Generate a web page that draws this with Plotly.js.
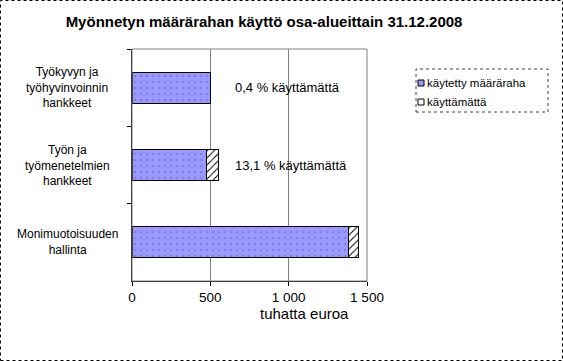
<!DOCTYPE html>
<html><head><meta charset="utf-8">
<script src="https://cdn.plot.ly/plotly-3.0.1.min.js"></script>
<style>html,body{margin:0;padding:0;background:#fff}#c{width:563px;height:361px}</style>
</head><body><div id="c"></div>
<script>
const categories = ["Työkyvyn ja<br>työhyvinvoinnin<br>hankkeet", "Työn ja<br>työmenetelmien<br>hankkeet", "Monimuotoisuuden<br>hallinta"];
const used = [498, 478, 1385];
const unused = [2, 72, 61];
const notes = ["0,4 % käyttämättä", "13,1 % käyttämättä", "4,2 % käyttämättä"];
const noteX = [644, 644, 1559];
const seriesNames = ["käytetty määräraha", "käyttämättä"];
const tickVals = [0, 500, 1000, 1500];
const tickText = ["0", "500", "1 000", "1 500"];

const font = "Liberation Sans, Arial, sans-serif";
const L = 132, R = 367, T = 49, B = 281;
const px = v => (v - L) / (R - L);
const py = v => (B - v) / (B - T);

const traces = [
  {type:'bar', orientation:'h', y:categories, x:used, name:seriesNames[0], width:0.4, showlegend:false,
   marker:{color:'#9999ff', line:{color:'#000', width:1}, pattern:{shape:'.', fgcolor:'#8080e0', bgcolor:'#9999ff', size:6, solidity:0.15}}},
  {type:'bar', orientation:'h', y:categories, x:unused, name:seriesNames[1], width:0.4, showlegend:false,
   marker:{color:'#ffffff', line:{color:'#000', width:1}, pattern:{shape:'/', fgcolor:'#000', bgcolor:'#fff', size:5, solidity:0.2}}}
];
const annotations = notes.map((t,i)=>({x:noteX[i], y:categories[i], xref:'x', yref:'y', text:t, showarrow:false, xanchor:'left', font:{family:font, size:13, color:'#000'}}));
categories.forEach((c,i)=>annotations.push({x:px(67), y:c, xref:'paper', yref:'y', text:c, showarrow:false, xanchor:'center', align:'center', font:{family:font, size:12, color:'#000'}}));
annotations.push({x:px(304), y:py(313), xref:'paper', yref:'paper', text:'tuhatta euroa', showarrow:false, xanchor:'center', yanchor:'middle', font:{family:font, size:15, color:'#000'}});
// legend (custom)
const legY = [83, 102];
seriesNames.forEach((n,i)=>annotations.push({x:px(425), y:py(legY[i]), xref:'paper', yref:'paper', text:n, showarrow:false, xanchor:'left', yanchor:'middle', font:{family:font, size:11.5, color:'#000'}}));

const shapes = [
  {type:'rect', xref:'paper', yref:'paper', x0:0, x1:1, y0:0, y1:1, line:{color:'#808080', width:1}},
  {type:'rect', xref:'paper', yref:'paper', x0:px(0.5), x1:px(562.5), y0:py(360.5), y1:py(0.5), line:{color:'#000', width:1, dash:'dot'}},
  {type:'rect', xref:'paper', yref:'paper', x0:px(416), x1:px(548), y0:py(112), y1:py(69), line:{color:'#404040', width:1, dash:'dot'}, fillcolor:'#fff'},
  {type:'rect', xref:'paper', yref:'paper', x0:px(418), x1:px(424), y0:py(legY[0]+3), y1:py(legY[0]-3), line:{color:'#000', width:1}, fillcolor:'#9999ff'},
  {type:'rect', xref:'paper', yref:'paper', x0:px(418), x1:px(424), y0:py(legY[1]+3), y1:py(legY[1]-3), line:{color:'#000', width:1}, fillcolor:'#fff'}
];
const layout = {
  width:563, height:361, barmode:'stack', bargap:0.6,
  margin:{l:L, r:563-R, t:T, b:361-B},
  paper_bgcolor:'#fff', plot_bgcolor:'#fff',
  font:{family:font, color:'#000'},
  showlegend:false,
  title:{text:'<b>Myönnetyn määrärahan käyttö osa-alueittain 31.12.2008</b>', x:0.469, xanchor:'center', y:0.94, yanchor:'middle', font:{family:font, size:15, color:'#000'}},
  xaxis:{range:[0,1500], tickvals:tickVals, ticktext:tickText, showgrid:true, gridcolor:'#808080', gridwidth:1,
         zeroline:false, showline:true, linecolor:'#000', ticks:'outside', ticklen:4, tickcolor:'#000',
         tickfont:{family:font, size:13.5}},
  yaxis:{autorange:false, range:[2.5,-0.5], type:'category', tickson:'boundaries', ticks:'outside', ticklen:4, tickcolor:'#000',
         showticklabels:false, showline:true, linecolor:'#000', showgrid:false},
  annotations:annotations,
  shapes:shapes
};
Plotly.newPlot('c', traces, layout, {displayModeBar:false, staticPlot:true});
</script></body></html>
